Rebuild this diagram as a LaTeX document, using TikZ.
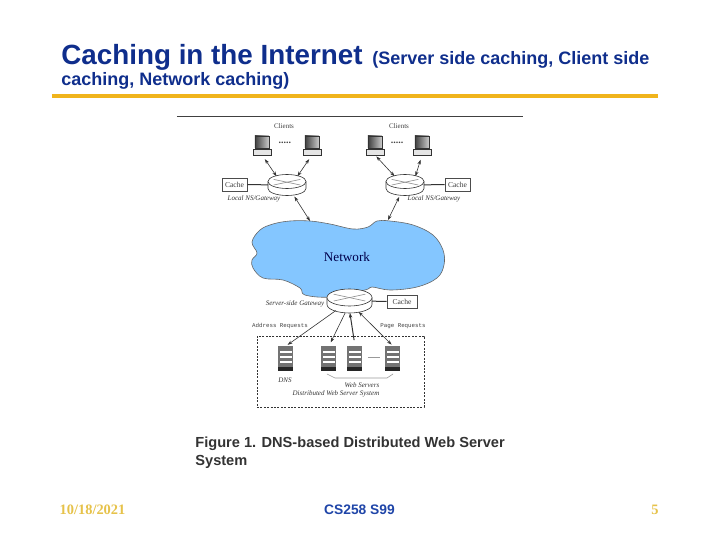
\documentclass[tikz,border=0pt]{standalone}
\usepackage{fontspec}
\setmainfont{Liberation Serif}
\setsansfont{Liberation Sans}
\setmonofont{Liberation Mono}
\usetikzlibrary{arrows.meta,shapes}
\definecolor{titleblue}{HTML}{0F2E8C}
\definecolor{footblue}{HTML}{1F45A8}
\definecolor{rulegold}{HTML}{F0B41C}
\definecolor{footgold}{HTML}{E6C24A}
\definecolor{netblue}{HTML}{84C6FF}
\tikzstyle{title}=[anchor=base west,inner sep=0,text=titleblue,font=\sffamily\bfseries\fontsize{13.9}{15}\selectfont]
\tikzstyle{subtitle}=[anchor=base west,inner sep=0,text=titleblue,font=\sffamily\bfseries\fontsize{9}{10}\selectfont]
\tikzstyle{caption}=[anchor=base west,inner sep=0,text=black!80,font=\sffamily\bfseries\fontsize{7.3}{8}\selectfont]
\tikzstyle{footg}=[inner sep=0,text=footgold,font=\rmfamily\bfseries\fontsize{7.2}{8}\selectfont]
\tikzstyle{footb}=[inner sep=0,text=footblue,font=\sffamily\bfseries\fontsize{6.9}{8}\selectfont]
\tikzstyle{small}=[inner sep=0,text=black!75,font=\rmfamily\fontsize{3.5}{4}\selectfont]
\tikzstyle{ital}=[inner sep=0,text=black!80,font=\rmfamily\itshape\fontsize{3.5}{4}\selectfont]
\tikzstyle{mono}=[inner sep=0,text=black!75,font=\ttfamily\fontsize{2.9}{4}\selectfont]
\tikzstyle{cache}=[rectangle,draw=black!70,fill=white,line width=0.35pt,inner sep=0,minimum width=12.5pt,minimum height=6.5pt,text=black!75,font=\rmfamily\fontsize{3.8}{4}\selectfont]
\tikzstyle{hold}=[rectangle,inner sep=0,outer sep=0]
\tikzstyle{rbox}=[ellipse,inner sep=0,outer sep=0]
\tikzstyle{dgraph}=[->,>={Stealth[length=2.4pt,width=1.7pt]},line width=0.3pt,black!80]
\tikzstyle{wire}=[line width=0.5pt,black!80]
\newcommand{\client}[2]{
\node[hold,minimum width=9pt,minimum height=10pt] (#1) at (#2) {};
\begin{scope}[shift={(#2)}]
\draw[black!80,line width=0.4pt,left color=black!75,right color=black!20] (-7,-9) rectangle (7,3);
\draw[black!80,fill=black!10,line width=0.4pt] (-9,4) rectangle (9,10);
\end{scope}}
\newcommand{\server}[2]{
\node[hold,minimum width=7.5pt,minimum height=12.5pt] (#1) at (#2) {};
\begin{scope}[shift={(#2)}]
\fill[black!55] (-7.5,-12.5) rectangle (7.5,9);
\fill[black!85] (-7.5,9) rectangle (7.5,12.5);
\foreach \ypos in {-7,-2,3}{\fill[white] (-6,\ypos) rectangle (6,\ypos+1.2);}
\end{scope}}
\newcommand{\router}[4]{
\node[rbox,minimum width=#3*1pt,minimum height=#4*1pt+3.5pt] (#1) at (#2) {};
\begin{scope}[shift={(#2)}]
\fill[white] (-#3,-3.5) -- (-#3,3.5) arc[start angle=180,end angle=360,x radius=#3*0.5pt,y radius=#4*0.5pt] -- (#3,-3.5) -- cycle;
\draw[line width=0.3pt,black!80] (-#3,-3.5) -- (-#3,3.5) arc[start angle=180,end angle=360,x radius=#3*0.5pt,y radius=#4*0.5pt] -- (#3,-3.5);
\draw[line width=0.3pt,black!80,fill=white] (0,-3.5) ellipse [x radius=#3*0.5pt,y radius=#4*0.5pt];
\draw[line width=0.3pt,black!45] (-#3*0.7,-#4*0.8) -- (#3*0.7,0);
\draw[line width=0.3pt,black!45] (-#3*0.7,0) -- (#3*0.7,-#4*0.8);
\end{scope}}
\begin{document}
\begin{tikzpicture}[x=0.5pt,y=-0.5pt]
\useasboundingbox (0,0) rectangle (720,540);
% heading
\node[title] (T1) at (61,65) {Caching in the Internet};
\node[subtitle] (T2) at (372,65) {(Server side caching, Client side};
\node[subtitle] (T3) at (61,86) {caching, Network caching)};
\coordinate (GA) at (52,96);\coordinate (GB) at (658,96);
\draw[rulegold,line width=1.75pt] (GA)--(GB);
\coordinate (RA) at (177,117);\coordinate (RB) at (523,117);
\draw[black!75,line width=0.5pt] (RA)--(RB);
% network
\draw[fill=netblue,draw=black!60,line width=0.3pt] plot[smooth cycle,tension=0.6] coordinates {(260,230) (273,224) (290,221) (310,221) (330,224) (353,229) (368,227) (377,221) (390,221) (413,225) (433,235) (443,250) (444,265) (437,278) (417,287) (390,290) (372,287) (365,290) (330,297) (305,295) (300,288) (283,280) (263,278) (253,268) (252,260) (257,253) (252,242)};
\node[inner sep=0,text=black!70!blue,font=\rmfamily\fontsize{6.6}{8}\selectfont] (N) at (347,257) {Network};
\coordinate (NL) at (310,221);\coordinate (NR) at (388,220);
% clients
\node[small] (LC) at (284,126) {Clients};
\node[small] (RC) at (399,126) {Clients};
\client{A1}{262,145}
\client{A2}{312,145}
\client{B1}{375,145}
\client{B2}{422,145}
\node[small,font=\rmfamily\bfseries\fontsize{5}{5}\selectfont] (AD) at (285,143) {.....};
\node[small,font=\rmfamily\bfseries\fontsize{5}{5}\selectfont] (BD) at (397,143) {.....};
% gateways
\router{RL}{287,185}{19}{7}
\router{RR}{405,185}{19}{7}
\node[cache] (CL) at (234.5,184.5) {Cache};
\node[cache] (CR) at (457.5,184.5) {Cache};
\node[ital] (LL) at (254,199) {Local NS/Gateway};
\node[ital] (LR) at (434,199) {Local NS/Gateway};
\draw[wire](CL)--(RL);\draw[wire](CR)--(RR);
\draw[dgraph,<->,shorten <=2.5pt](A1.south)--(RL.140);
\draw[dgraph,<->,shorten <=2.5pt](A2.south)--(RL.40);
\draw[dgraph,<->,shorten <=1pt](B1.south)--(RR.140);
\draw[dgraph,<->,shorten <=2.5pt](B2.south)--(RR.40);
\draw[dgraph,<->,shorten <=1pt](RL)--(NL);
\draw[dgraph,<->,shorten <=1pt](RR)--(NR);
% web server system
\router{GW}{349.5,301}{22.5}{8.5}
\node[cache,minimum width=15pt] (CG) at (402,301.5) {Cache};
\draw[wire](GW)--(CG);
\node[ital] (LG) at (295,304) {Server-side Gateway};
\node[mono] (AR) at (280,326) {Address Requests};
\node[mono] (PR) at (403,326) {Page Requests};
\node[draw=black!80,dash pattern=on 1pt off 0.7pt,line width=0.35pt,minimum width=83.5pt,minimum height=35.5pt,inner sep=0] (WB) at (340.5,371.5) {};
\server{DNS}{286,358.5}
\server{W1}{329,358.5}
\server{W2}{355,358.5}
\server{W3}{393,358.5}
\coordinate (DA) at (368,357);\coordinate (DB) at (380,357);
\draw[black!40,line width=0.3pt](DA)--(DB);
\coordinate (BA) at (327,374);\coordinate (BB) at (335,378);\coordinate (BC) at (387,378);\coordinate (BE) at (393,374);
\draw[black!40,line width=0.3pt](BA)--(BB)--(BC)--(BE);
\node[ital] (LD) at (285,380) {DNS};
\node[ital] (LW) at (362,385) {Web Servers};
\node[ital] (LS) at (336,394) {Distributed Web Server System};
\draw[dgraph,shorten >=1pt](GW.215)--(DNS.north);
\draw[dgraph,shorten >=2pt](GW.250)--(W1.north);
\draw[dgraph,<-,line width=0.5pt,shorten >=3pt](GW.272)--(W2.north);
\draw[dgraph,<->,shorten >=1pt](GW.-50)--(W3.north);
% caption and footer
\node[caption] (F1) at (195,447.5) {Figure 1. DNS-based Distributed Web Server};
\node[caption] (F2) at (195,465.5) {System};
\node[footg] (D) at (92.5,510) {10/18/2021};
\node[footb] (CS) at (359.5,510) {CS258 S99};
\node[footg] (P) at (655,510) {5};
\end{tikzpicture}
\end{document}
